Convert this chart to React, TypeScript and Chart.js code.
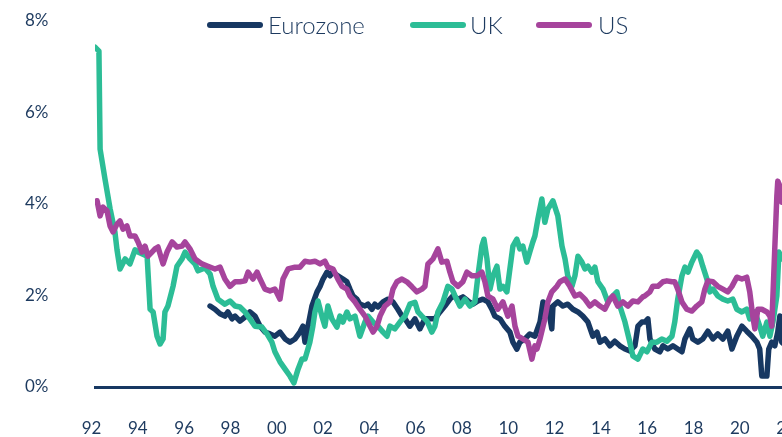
import React, { useEffect, useRef } from 'react';
import { Chart, registerables } from 'chart.js';

Chart.register(...registerables);

const NAVY = '#173862';
const TEAL = '#2cbd96';
const PURPLE = '#a6449c';
const TEXT = '#1d3a5f';
const FONT = 'Lato, "Noto Sans", sans-serif';

const seriesNames = ['Eurozone', 'UK', 'US'];
const xTickYears = [1992, 1994, 1996, 1998, 2000, 2002, 2004, 2006, 2008, 2010, 2012, 2014, 2016, 2018, 2020, 2022];
const yTickValues = [0, 2, 4, 6, 8];

const ukYears = [
  1992.15, 1992.32, 1992.37, 1992.58, 1992.8, 1993.01, 1993.1, 1993.23, 1993.45, 1993.66, 1993.88, 1994.01, 1994.22, 1994.4,
  1994.53, 1994.66, 1994.83, 1994.96, 1995.09, 1995.17, 1995.3, 1995.52, 1995.69, 1995.91, 1996.04, 1996.25, 1996.47, 1996.6,
  1996.9, 1997.12, 1997.25, 1997.46, 1997.76, 1997.98, 1998.2, 1998.41, 1998.63, 1998.84, 1999.06, 1999.36, 1999.58, 1999.79,
  1999.92, 2000.14, 2000.36, 2000.57, 2000.74, 2000.92, 2001.09, 2001.22, 2001.43, 2001.56, 2001.65, 2001.78, 2001.95, 2002.08,
  2002.21, 2002.38, 2002.6, 2002.73, 2002.86, 2003.03, 2003.16, 2003.38, 2003.59, 2003.81, 2003.94, 2004.16, 2004.37, 2004.59,
  2004.76, 2004.89, 2005.1, 2005.32, 2005.54, 2005.75, 2005.97, 2006.1, 2006.27, 2006.49, 2006.7, 2006.83, 2006.96, 2007.18,
  2007.39, 2007.57, 2007.7, 2007.91, 2008.13, 2008.34, 2008.56, 2008.69, 2008.86, 2008.95, 2009.08, 2009.21, 2009.34, 2009.51,
  2009.64, 2009.77, 2009.94, 2010.07, 2010.2, 2010.37, 2010.5, 2010.63, 2010.8, 2010.93, 2011.06, 2011.15, 2011.28, 2011.45,
  2011.58, 2011.71, 2011.93, 2012.14, 2012.32, 2012.45, 2012.57, 2012.75, 2012.88, 2013.01, 2013.18, 2013.31, 2013.44, 2013.61,
  2013.74, 2013.87, 2014.09, 2014.3, 2014.52, 2014.69, 2014.82, 2015.04, 2015.25, 2015.38, 2015.6, 2015.81, 2015.99, 2016.2,
  2016.42, 2016.63, 2016.85, 2017.07, 2017.19, 2017.32, 2017.5, 2017.63, 2017.76, 2017.93, 2018.14, 2018.27, 2018.4, 2018.58,
  2018.71, 2018.84, 2019.05, 2019.27, 2019.48, 2019.7, 2019.87, 2020.09, 2020.3, 2020.43, 2020.65, 2020.86, 2020.99, 2021.17,
  2021.3, 2021.43, 2021.6, 2021.69, 2021.81, 2022.0, 2022.2,
];
const ukValues = [
  7.43, 7.34, 5.2, 4.55, 3.9, 3.39, 3.0, 2.58, 2.8, 2.69, 3.0, 2.95, 2.9, 2.86,
  1.7, 1.64, 1.11, 0.94, 1.05, 1.64, 1.77, 2.2, 2.64, 2.8, 2.95, 2.8, 2.69, 2.54,
  2.6, 2.47, 2.2, 1.92, 1.81, 1.88, 1.77, 1.75, 1.64, 1.49, 1.33, 1.31, 1.16, 0.98,
  0.77, 0.55, 0.39, 0.24, 0.09, 0.39, 0.61, 0.61, 0.98, 1.33, 1.64, 1.88, 1.55, 1.33,
  1.77, 1.49, 1.31, 1.55, 1.42, 1.64, 1.49, 1.55, 1.11, 1.42, 1.55, 1.42, 1.33, 1.2,
  1.11, 1.33, 1.27, 1.42, 1.55, 1.81, 1.85, 1.64, 1.55, 1.44, 1.2, 1.33, 1.64, 1.86,
  2.2, 2.14, 1.99, 1.77, 1.92, 1.77, 1.86, 2.43, 3.08, 3.23, 2.8, 2.14, 2.43, 2.64,
  2.14, 2.2, 2.08, 2.58, 3.08, 3.23, 3.02, 3.08, 2.73, 2.95, 3.17, 3.3, 3.67, 4.11,
  3.6, 3.89, 4.07, 3.74, 3.08, 2.8, 2.43, 2.2, 2.43, 2.86, 2.73, 2.58, 2.64, 2.51,
  2.62, 2.3, 2.14, 1.86, 1.99, 2.08, 1.77, 1.42, 0.98, 0.68, 0.61, 0.83, 0.77, 0.98,
  0.98, 1.05, 1.0, 1.11, 1.42, 1.92, 2.43, 2.62, 2.51, 2.73, 2.95, 2.86, 2.64, 2.36,
  2.08, 2.14, 1.99, 1.92, 1.88, 1.92, 1.7, 1.64, 1.7, 1.49, 1.64, 1.33, 1.11, 1.42,
  1.11, 1.42, 1.99, 2.95, 2.8, 2.9, 3.1,
];

const ezYears = [
  1997.12, 1997.33, 1997.55, 1997.76, 1997.89, 1998.07, 1998.2, 1998.41, 1998.63, 1998.84, 1999.06, 1999.28, 1999.49, 1999.71,
  1999.92, 2000.14, 2000.36, 2000.57, 2000.79, 2001.0, 2001.13, 2001.22, 2001.35, 2001.52, 2001.74, 2001.87, 2002.0, 2002.17,
  2002.3, 2002.43, 2002.64, 2002.86, 2003.03, 2003.16, 2003.29, 2003.46, 2003.59, 2003.81, 2003.94, 2004.11, 2004.24, 2004.37,
  2004.59, 2004.8, 2005.02, 2005.23, 2005.41, 2005.54, 2005.75, 2005.97, 2006.18, 2006.4, 2006.62, 2006.83, 2007.05, 2007.26,
  2007.48, 2007.61, 2007.83, 2008.04, 2008.26, 2008.47, 2008.69, 2008.9, 2009.12, 2009.29, 2009.42, 2009.64, 2009.85, 2010.07,
  2010.2, 2010.37, 2010.5, 2010.72, 2010.93, 2011.15, 2011.37, 2011.5, 2011.71, 2011.88, 2011.93, 2012.14, 2012.36, 2012.57,
  2012.79, 2013.01, 2013.22, 2013.44, 2013.65, 2013.83, 2013.96, 2014.17, 2014.39, 2014.6, 2014.82, 2015.04, 2015.25, 2015.47,
  2015.6, 2015.77, 2015.9, 2016.03, 2016.12, 2016.33, 2016.55, 2016.68, 2016.89, 2017.11, 2017.32, 2017.5, 2017.63, 2017.84,
  2017.97, 2018.19, 2018.4, 2018.62, 2018.84, 2019.05, 2019.27, 2019.48, 2019.66, 2019.87, 2020.09, 2020.3, 2020.52, 2020.74,
  2020.86, 2020.95, 2021.17, 2021.25, 2021.38, 2021.51, 2021.64, 2021.73, 2021.81, 2022.0, 2022.2,
];
const ezValues = [
  1.77, 1.7, 1.6, 1.55, 1.64, 1.49, 1.55, 1.44, 1.53, 1.64, 1.55, 1.33, 1.2, 1.16,
  1.11, 1.2, 1.05, 0.98, 1.05, 1.2, 1.33, 0.98, 1.33, 1.77, 2.08, 2.2, 2.36, 2.51,
  2.43, 2.51, 2.43, 2.36, 2.3, 2.14, 1.99, 1.92, 1.81, 1.77, 1.81, 1.7, 1.81, 1.75,
  1.86, 1.92, 1.86, 1.7, 1.55, 1.49, 1.33, 1.49, 1.27, 1.49, 1.49, 1.49, 1.64, 1.77,
  1.92, 1.99, 1.92, 1.97, 1.88, 1.81, 1.88, 1.92, 1.86, 1.7, 1.55, 1.49, 1.33, 1.2,
  0.98, 0.83, 0.98, 1.05, 1.16, 1.11, 1.42, 1.86, 1.77, 1.27, 1.77, 1.86, 1.77, 1.81,
  1.7, 1.64, 1.55, 1.42, 1.11, 1.2, 0.98, 1.05, 0.9, 1.0, 0.9, 0.83, 0.79, 0.9,
  1.33, 1.42, 1.42, 1.49, 1.05, 0.83, 0.77, 0.9, 0.83, 0.9, 0.83, 0.77, 1.05, 1.27,
  1.05, 0.98, 1.05, 1.22, 1.05, 1.16, 1.05, 1.22, 0.83, 1.11, 1.33, 1.22, 1.11, 0.98,
  0.83, 0.24, 0.24, 0.83, 0.98, 0.9, 1.2, 1.55, 0.98, 0.9, 1.0,
];

const usYears = [
  1992.24, 1992.37, 1992.5, 1992.67, 1992.8, 1992.93, 1993.1, 1993.23, 1993.36, 1993.53, 1993.66, 1993.88, 1994.01, 1994.18,
  1994.31, 1994.44, 1994.61, 1994.74, 1994.87, 1995.09, 1995.26, 1995.48, 1995.69, 1995.91, 1996.04, 1996.25, 1996.47, 1996.77,
  1997.03, 1997.33, 1997.55, 1997.76, 1997.98, 1998.2, 1998.41, 1998.63, 1998.76, 1998.97, 1999.15, 1999.28, 1999.49, 1999.71,
  1999.92, 2000.14, 2000.27, 2000.49, 2000.79, 2001.0, 2001.22, 2001.43, 2001.65, 2001.87, 2002.08, 2002.21, 2002.43, 2002.64,
  2002.82, 2003.03, 2003.16, 2003.38, 2003.59, 2003.81, 2004.03, 2004.16, 2004.33, 2004.46, 2004.67, 2004.89, 2005.02, 2005.19,
  2005.41, 2005.62, 2005.84, 2006.05, 2006.27, 2006.4, 2006.53, 2006.75, 2006.96, 2007.13, 2007.35, 2007.48, 2007.61, 2007.83,
  2008.04, 2008.21, 2008.43, 2008.65, 2008.86, 2008.99, 2009.12, 2009.34, 2009.55, 2009.77, 2009.98, 2010.16, 2010.29, 2010.42,
  2010.63, 2010.85, 2011.02, 2011.15, 2011.24, 2011.37, 2011.58, 2011.71, 2011.88, 2012.1, 2012.23, 2012.45, 2012.66, 2012.88,
  2013.09, 2013.31, 2013.52, 2013.74, 2013.96, 2014.17, 2014.39, 2014.52, 2014.73, 2014.95, 2015.17, 2015.38, 2015.6, 2015.81,
  2015.9, 2016.12, 2016.24, 2016.46, 2016.68, 2016.85, 2017.07, 2017.19, 2017.32, 2017.5, 2017.71, 2017.93, 2018.14, 2018.36,
  2018.49, 2018.62, 2018.84, 2019.05, 2019.27, 2019.48, 2019.66, 2019.87, 2020.09, 2020.3, 2020.43, 2020.56, 2020.65, 2020.78,
  2020.95, 2021.17, 2021.3, 2021.38, 2021.51, 2021.6, 2021.64, 2021.73, 2021.81, 2022.0, 2022.2,
];
const usValues = [
  4.07, 3.74, 3.93, 3.85, 3.52, 3.39, 3.56, 3.63, 3.45, 3.52, 3.3, 3.3, 3.17, 2.95,
  3.08, 2.86, 2.95, 3.02, 3.06, 2.69, 2.95, 3.17, 3.06, 3.08, 3.17, 3.02, 2.8, 2.69,
  2.64, 2.58, 2.62, 2.36, 2.2, 2.3, 2.3, 2.32, 2.51, 2.36, 2.51, 2.36, 2.14, 2.1,
  2.14, 1.92, 2.36, 2.58, 2.62, 2.62, 2.75, 2.73, 2.75, 2.69, 2.75, 2.62, 2.58, 2.36,
  2.2, 2.14, 1.99, 1.86, 1.7, 1.55, 1.33, 1.2, 1.33, 1.55, 1.77, 1.86, 2.14, 2.3,
  2.36, 2.3, 2.19, 2.08, 2.14, 2.2, 2.69, 2.8, 3.02, 2.73, 2.75, 2.51, 2.3, 2.2,
  2.3, 2.51, 2.43, 2.43, 2.51, 2.3, 1.99, 1.92, 1.7, 1.86, 1.55, 1.77, 1.33, 1.11,
  1.05, 0.98, 0.61, 0.9, 0.83, 1.05, 1.49, 1.86, 2.08, 2.2, 2.3, 2.36, 2.2, 1.99,
  2.03, 1.92, 1.77, 1.86, 1.77, 1.7, 1.92, 1.99, 1.77, 1.86, 1.77, 1.88, 1.86, 1.97,
  1.99, 2.08, 2.2, 2.2, 2.3, 2.32, 2.3, 2.3, 2.14, 1.86, 1.7, 1.66, 1.77, 1.86,
  2.14, 2.32, 2.3, 2.2, 2.14, 2.08, 2.2, 2.4, 2.36, 2.4, 2.08, 1.55, 1.27, 1.7,
  1.7, 1.64, 1.55, 1.33, 3.02, 4.17, 4.5, 4.39, 4.04, 4.2, 4.3,
];

const seriesColors = [NAVY, TEAL, PURPLE];

function toPoints(xs: number[], ys: number[]) {
  return xs.map((x, i) => ({ x, y: ys[i] }));
}

const legendItems = [
  { name: seriesNames[0], color: NAVY, lineLeft: 207, textLeft: 268 },
  { name: seriesNames[1], color: TEAL, lineLeft: 410, textLeft: 470 },
  { name: seriesNames[2], color: PURPLE, lineLeft: 536, textLeft: 598 },
];

export default function App() {
  const canvasRef = useRef<HTMLCanvasElement | null>(null);

  useEffect(() => {
    const canvas = canvasRef.current;
    if (!canvas) return;
    const line = (label: string, data: any, color: string, order: number) => ({
      label,
      data,
      borderColor: color,
      backgroundColor: color,
      borderWidth: 5.5,
      pointRadius: 0,
      tension: 0,
      fill: false,
      order,
      borderJoinStyle: 'round' as const,
      borderCapStyle: 'round' as const,
    });
    const chart = new Chart(canvas, {
      type: 'line',
      data: {
        datasets: [
          line(seriesNames[0], toPoints(ezYears, ezValues), seriesColors[0], 2),
          line(seriesNames[1], toPoints(ukYears, ukValues), seriesColors[1], 1),
          line(seriesNames[2], toPoints(usYears, usValues), seriesColors[2], 0),
        ],
      },
      options: {
        animation: false,
        responsive: false,
        maintainAspectRatio: false,
        layout: { padding: { left: 25, right: 12, top: 21, bottom: 0 } },
        plugins: { legend: { display: false }, tooltip: { enabled: false } },
        scales: {
          x: {
            type: 'linear',
            min: 1992.15,
            max: 2022.6,
            grid: { display: false, drawTicks: false },
            border: { display: true, color: NAVY, width: 3 },
            afterBuildTicks: (s: any) => {
              s.ticks = xTickYears.map((v) => ({ value: v }));
            },
            afterFit: (s: any) => {
              s.height = 50;
              s.paddingLeft = 0;
              s.paddingRight = 0;
            },
            ticks: {
              autoSkip: false,
              maxRotation: 0,
              padding: 31,
              color: TEXT,
              font: { family: FONT, size: 17 },
              callback: (v: any) => String(v).slice(-2),
            },
          },
          y: {
            min: 0,
            max: 8,
            grid: { display: false, drawTicks: false },
            border: { display: false },
            afterBuildTicks: (s: any) => {
              s.ticks = yTickValues.map((v) => ({ value: v }));
            },
            afterFit: (s: any) => {
              s.width = 70;
              s.paddingTop = 0;
              s.paddingBottom = 0;
            },
            ticks: {
              padding: 0,
              crossAlign: 'far',
              color: TEXT,
              font: { family: FONT, size: 17 },
              callback: (v: any) => v + '%',
            },
          },
        },
      },
    });
    return () => chart.destroy();
  }, []);

  return (
    <div
      style={{
        position: 'fixed',
        left: 0,
        top: 0,
        width: 782,
        height: 437,
        overflow: 'hidden',
        background: '#ffffff',
      }}
    >
      <canvas ref={canvasRef} width={812} height={437} style={{ width: 812, height: 437, display: 'block' }} />
      {legendItems.map((it) => (
        <React.Fragment key={it.name}>
          <div
            style={{
              position: 'absolute',
              left: it.lineLeft,
              top: 22,
              width: 56,
              height: 6,
              borderRadius: 3,
              background: it.color,
            }}
          />
          <div
            style={{
              position: 'absolute',
              left: it.textLeft,
              top: 10,
              height: 30,
              lineHeight: '30px',
              fontFamily: FONT,
              fontWeight: 300,
              fontSize: 24,
              color: TEXT,
              whiteSpace: 'nowrap',
            }}
          >
            {it.name}
          </div>
        </React.Fragment>
      ))}
    </div>
  );
}
